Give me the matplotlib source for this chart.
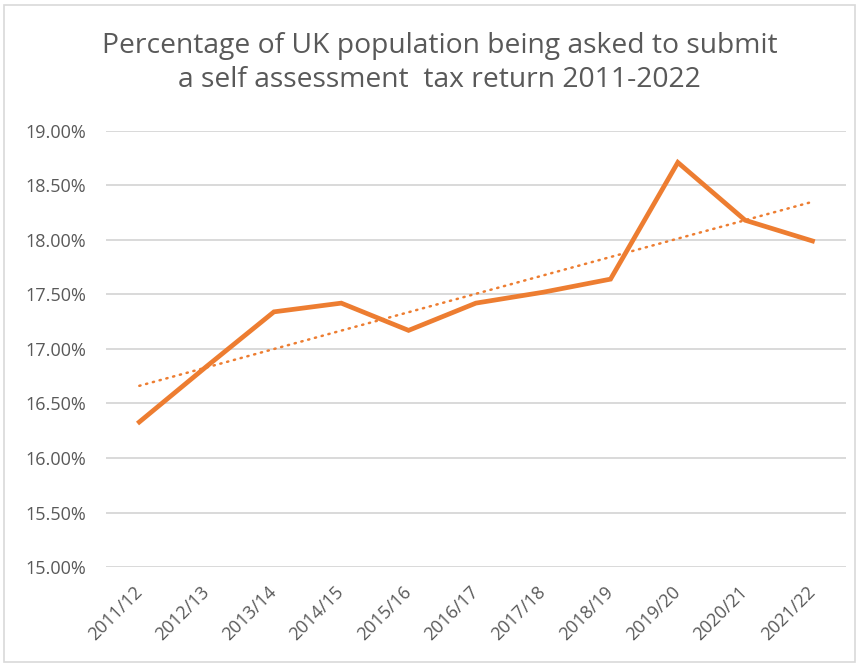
import matplotlib.pyplot as plt
import matplotlib.patches as patches
import numpy as np

# tax years and share of population asked to file a self assessment return (%)
years = ["2011/12", "2012/13", "2013/14", "2014/15", "2015/16", "2016/17",
         "2017/18", "2018/19", "2019/20", "2020/21", "2021/22"]
share = [16.33, 16.84, 17.34, 17.42, 17.17, 17.42, 17.52, 17.64, 18.71, 18.18, 17.99]
yticks = [15.0, 15.5, 16.0, 16.5, 17.0, 17.5, 18.0, 18.5, 19.0]

orange = "#ED7D31"
grey = "#595959"
plt.rcParams['font.family'] = ['Open Sans', 'DejaVu Sans']

fig = plt.figure(figsize=(8.59, 6.64), dpi=100)
ax = fig.add_axes([0.123, 0.146, 0.862, 0.657])

x = np.arange(len(years))
ax.plot(x, share, color=orange, lw=3.4, solid_joinstyle='miter', zorder=3)

# linear trendline
slope, icept = np.polyfit(x, share, 1)
ax.plot(x, slope * x + icept, color=orange, lw=1.8, linestyle=(0, (0.5, 2.3)),
        dash_capstyle='round', zorder=2)

ax.set_xlim(-0.5, len(years) - 0.5)
ax.set_ylim(15.0, 19.0)
ax.set_yticks(yticks)
ax.set_yticklabels(["%.2f%%" % v for v in yticks])
ax.set_xticks(x)
ax.set_xticklabels(years, rotation=45, ha='right', va='center', rotation_mode='anchor')
ax.grid(axis='y', color='#d9d9d9', lw=1.4)
ax.set_axisbelow(True)
for s in ax.spines.values():
    s.set_visible(False)
ax.tick_params(length=0, labelsize=13, colors=grey, pad=14)
ax.tick_params(axis='x', pad=16)

fig.text(0.512, 0.905, "Percentage of UK population being asked to submit\na self assessment  tax return 2011-2022",
         ha='center', va='center', fontsize=20.3, color=grey, linespacing=1.3)

# light frame round the chart area
fig.patches.append(patches.Rectangle((0.005, 0.003), 0.99, 0.99, transform=fig.transFigure,
                                     fill=False, edgecolor='#d9d9d9', lw=1.2))

fig.savefig("out.png", dpi=100)
